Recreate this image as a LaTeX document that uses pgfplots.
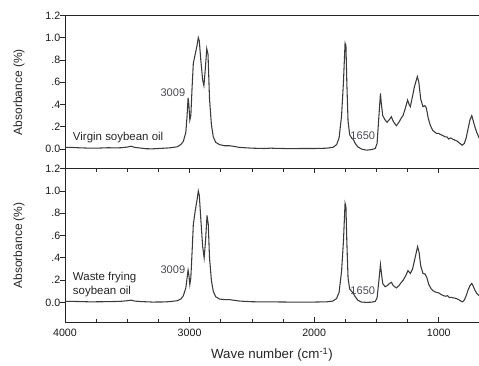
\documentclass[border=0pt]{standalone}
\usepackage{pgfplots}
\pgfplotsset{compat=1.18}
\usepackage{fontspec}
\setmainfont{Liberation Sans}
\definecolor{ln}{HTML}{3A3A3A}
\definecolor{ann}{HTML}{4A4A55}

\pgfplotsset{spec/.style={
  scale only axis, width=310.5pt, height=115pt,
  x dir=reverse, xmin=677, xmax=4000, ymin=-0.176, ymax=1.2,
  axis x line*=box, axis y line*=left,
  axis line style={-, line width=0.6pt, color=black!85},
  x axis line style={-}, y axis line style={-},
  ytick={0,0.2,0.4,0.6,0.8,1.0,1.2},
  yticklabels={0.0,.2,.4,.6,.8,1.0,1.2},
  ytick pos=left,
  tick align=inside,
  major tick length=3.5pt, minor tick length=2.5pt,
  tick style={line width=0.5pt, color=black!85},
  ytick style={xshift=-3.5pt},
  tick label style={font=\fontsize{8}{9.6}\selectfont, color=black!90},
  ylabel={Absorbance (\%)},
  ylabel style={at={(axis description cs:-0.111,0.5)}, anchor=center, font=\fontsize{9}{11}\selectfont, color=black!85},
  cycle list={{ln, line width=0.8pt, mark=none}},
}}

\begin{document}
\begin{tikzpicture}
\begin{axis}[spec, name=top, at={(0,0)}, anchor=south west,
  xtick=\empty, minor x tick num=0]
\addplot[ln, line width=0.8pt, mark=none] coordinates {
(4000,0.015)(3950,0.015)(3900,0.012)(3850,0.010)(3800,0.008)(3750,0.008)(3700,0.010)(3650,0.012)(3600,0.010)(3550,0.012)(3500,0.018)(3470,0.025)(3440,0.015)(3400,0.010)(3350,0.003)(3300,0.002)(3250,0.005)(3200,0.008)(3150,0.012)(3100,0.020)(3070,0.040)(3050,0.070)(3030,0.15)(3020,0.30)(3012,0.46)(3006,0.40)(2998,0.26)(2990,0.30)(2980,0.55)(2970,0.77)(2955,0.85)(2940,0.93)(2930,1.00)(2922,0.97)(2910,0.80)(2895,0.62)(2885,0.57)(2875,0.70)(2862,0.90)(2852,0.85)(2840,0.45)(2825,0.22)(2810,0.11)(2790,0.06)(2760,0.04)(2720,0.03)(2680,0.03)(2650,0.025)(2600,0.015)(2500,0.008)(2400,0.005)(2350,0.008)(2300,0.006)(2200,0.004)(2100,0.005)(2000,0.005)(1950,0.006)(1900,0.008)(1850,0.015)(1820,0.04)(1800,0.10)(1780,0.30)(1765,0.60)(1752,0.95)(1745,0.93)(1738,0.60)(1728,0.25)(1715,0.13)(1700,0.10)(1688,0.09)(1670,0.05)(1650,0.02)(1620,0.000)(1580,-0.010)(1540,-0.005)(1510,0.005)(1495,0.05)(1480,0.30)(1468,0.50)(1462,0.42)(1450,0.30)(1430,0.26)(1415,0.24)(1400,0.26)(1380,0.29)(1370,0.26)(1355,0.23)(1340,0.21)(1320,0.24)(1300,0.28)(1287,0.30)(1270,0.36)(1250,0.44)(1238,0.40)(1228,0.38)(1215,0.45)(1195,0.56)(1172,0.65)(1160,0.60)(1145,0.45)(1127,0.38)(1112,0.39)(1100,0.37)(1085,0.28)(1070,0.22)(1050,0.17)(1030,0.15)(1015,0.14)(1000,0.14)(985,0.13)(965,0.12)(950,0.11)(935,0.11)(920,0.09)(905,0.10)(890,0.09)(870,0.08)(850,0.07)(830,0.05)(812,0.035)(795,0.05)(780,0.10)(765,0.18)(750,0.26)(735,0.30)(725,0.26)(710,0.20)(695,0.15)(677,0.10)
};
\node[font=\fontsize{8.3}{10}\selectfont, color=ann] at (axis cs:3134,0.51) {3009};
\node[font=\fontsize{8.3}{10}\selectfont, color=ann] at (axis cs:1610,0.123) {1650};
\node[font=\fontsize{8.6}{10}\selectfont, color=black!85, anchor=west, inner sep=0pt] at (axis cs:3938,0.10) {Virgin soybean oil};
\end{axis}
\begin{axis}[spec, name=bot, at={(0,-115pt)}, anchor=south west,
  xtick={1000,2000,3000,4000}, xticklabels={1000,2000,3000,4000},
  minor x tick num=3, xtick pos=both,
  xticklabel style={yshift=-1.5pt},
  xlabel={Wave number (cm\textsuperscript{-1})},
  xlabel style={at={(axis description cs:0.5,-0.213)}, anchor=center, font=\fontsize{10}{12}\selectfont, color=black!85}]
\addplot[ln, line width=0.8pt, mark=none] coordinates {
(4000,0.010)(3900,0.008)(3800,0.005)(3700,0.006)(3600,0.008)(3550,0.010)(3500,0.015)(3470,0.020)(3440,0.012)(3400,0.008)(3300,0.003)(3200,0.004)(3150,0.008)(3100,0.015)(3070,0.030)(3050,0.060)(3030,0.13)(3020,0.22)(3012,0.29)(3006,0.25)(2998,0.16)(2990,0.22)(2980,0.45)(2970,0.70)(2955,0.82)(2940,0.92)(2930,1.00)(2922,0.96)(2910,0.75)(2895,0.50)(2883,0.40)(2872,0.55)(2860,0.78)(2850,0.70)(2840,0.40)(2825,0.20)(2810,0.10)(2790,0.05)(2760,0.03)(2720,0.025)(2680,0.025)(2600,0.012)(2500,0.006)(2400,0.004)(2300,0.004)(2200,0.003)(2100,0.003)(2000,0.003)(1900,0.005)(1850,0.012)(1820,0.035)(1800,0.09)(1780,0.28)(1765,0.55)(1752,0.89)(1745,0.86)(1738,0.55)(1728,0.22)(1715,0.12)(1700,0.10)(1688,0.085)(1670,0.05)(1650,0.02)(1620,0.003)(1580,0.000)(1540,0.002)(1510,0.008)(1495,0.04)(1480,0.20)(1468,0.34)(1462,0.28)(1450,0.17)(1430,0.14)(1415,0.15)(1395,0.17)(1380,0.18)(1365,0.15)(1340,0.13)(1320,0.15)(1300,0.18)(1285,0.20)(1265,0.24)(1247,0.285)(1235,0.27)(1228,0.26)(1210,0.30)(1190,0.40)(1170,0.50)(1158,0.45)(1145,0.33)(1127,0.26)(1110,0.255)(1095,0.22)(1080,0.16)(1060,0.12)(1040,0.10)(1020,0.09)(1000,0.085)(980,0.07)(960,0.06)(945,0.055)(930,0.06)(915,0.045)(900,0.045)(880,0.04)(860,0.035)(840,0.025)(820,0.01)(810,0.005)(795,0.02)(780,0.06)(765,0.11)(750,0.15)(735,0.17)(725,0.15)(710,0.11)(695,0.08)(677,0.06)
};
\node[font=\fontsize{8.3}{10}\selectfont, color=ann] at (axis cs:3134,0.29) {3009};
\node[font=\fontsize{8.3}{10}\selectfont, color=ann] at (axis cs:1610,0.105) {1650};
\node[font=\fontsize{8.6}{10.5}\selectfont, color=black!85, anchor=west, align=left, inner sep=0pt] at (axis cs:3938,0.16) {Waste frying\\soybean oil};
\end{axis}
\pgfresetboundingbox
\path[use as bounding box] (-48.75pt,-147.8pt) rectangle (310.5pt,126.5pt);
\end{tikzpicture}
\end{document}
